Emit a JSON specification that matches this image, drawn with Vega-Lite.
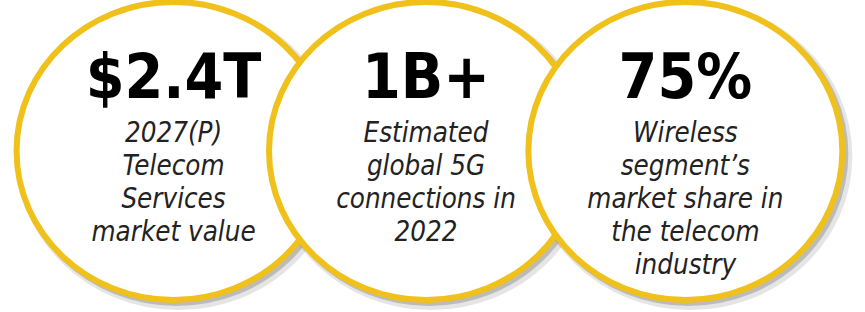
{
  "$schema": "https://vega.github.io/schema/vega-lite/v6.json",
  "width": 865,
  "height": 312,
  "autosize": {"type": "fit", "contains": "padding"},
  "padding": 0,
  "background": "white",
  "config": {"view": {"stroke": null}},
  "data": {
    "values": [
      {"cx": 176, "stat": "$2.4T", "desc": "2027(P)\nTelecom\nServices\nmarket value"},
      {"cx": 432, "stat": "1B+", "desc": "Estimated\nglobal 5G\nconnections in\n2022"},
      {"cx": 695, "stat": "75%", "desc": "Wireless\nsegment’s\nmarket share in\nthe telecom\nindustry"}
    ]
  },
  "encoding": {
    "x": {"field": "cx", "type": "quantitative", "scale": {"domain": [0, 865], "nice": false, "zero": false}, "axis": null}
  },
  "layer": [
    {
      "mark": {"type": "point", "shape": "M1,0C1,0.5241,0.5523,0.949,0,0.949C-0.5523,0.949,-1,0.5241,-1,0C-1,-0.5241,-0.5523,-0.949,0,-0.949C0.5523,-0.949,1,-0.5241,1,0Z", "size": 98596, "filled": false, "stroke": "#000000", "strokeOpacity": 0.1, "strokeWidth": 10, "opacity": 1, "xOffset": 5, "yOffset": 5},
      "encoding": {"y": {"datum": 156.5, "type": "quantitative", "scale": {"domain": [0, 312], "reverse": true, "nice": false, "zero": false}, "axis": null}}
    },
    {
      "mark": {"type": "point", "shape": "M1,0C1,0.5241,0.5523,0.949,0,0.949C-0.5523,0.949,-1,0.5241,-1,0C-1,-0.5241,-0.5523,-0.949,0,-0.949C0.5523,-0.949,1,-0.5241,1,0Z", "size": 98596, "filled": false, "stroke": "#000000", "strokeOpacity": 0.18, "strokeWidth": 6, "opacity": 1, "xOffset": 3, "yOffset": 3},
      "encoding": {"y": {"datum": 156.5, "type": "quantitative"}}
    },
    {
      "mark": {"type": "point", "shape": "M1,0C1,0.5241,0.5523,0.949,0,0.949C-0.5523,0.949,-1,0.5241,-1,0C-1,-0.5241,-0.5523,-0.949,0,-0.949C0.5523,-0.949,1,-0.5241,1,0Z", "size": 98596, "filled": true, "fill": "#ffffff", "stroke": "#EFC11A", "strokeWidth": 6, "opacity": 1, "fillOpacity": 1, "strokeOpacity": 1},
      "encoding": {"y": {"datum": 156.5, "type": "quantitative"}}
    },
    {
      "mark": {"type": "text", "font": "DejaVu Sans Condensed", "fontWeight": "bold", "fontSize": 62, "align": "center", "baseline": "alphabetic", "color": "#000000"},
      "encoding": {
        "y": {"datum": 99, "type": "quantitative"},
        "text": {"field": "stat"}
      }
    },
    {
      "mark": {"type": "text", "font": "DejaVu Sans Condensed", "fontStyle": "italic", "fontSize": 27.5, "lineHeight": 33, "lineBreak": "\n", "align": "center", "baseline": "alphabetic", "color": "#222222"},
      "encoding": {
        "y": {"datum": 147, "type": "quantitative"},
        "text": {"field": "desc"}
      }
    }
  ]
}
